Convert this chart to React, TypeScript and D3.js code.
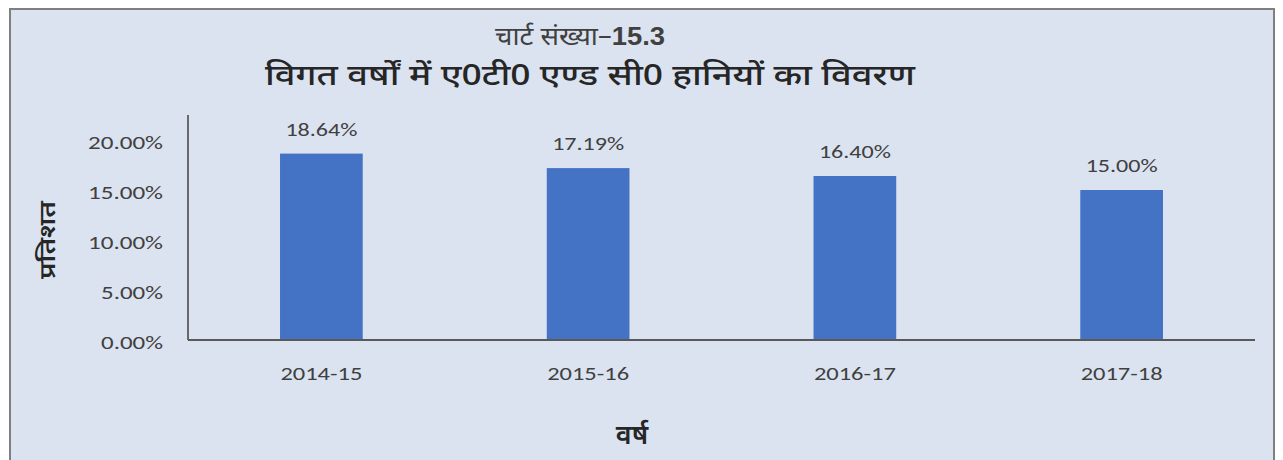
import { useEffect, useRef } from 'react';
import * as d3 from 'd3';

const years = ['2014-15', '2015-16', '2016-17', '2017-18'];
const losses = [18.64, 17.19, 16.4, 15.0];
const yTicks = [0, 5, 10, 15, 20];

const titleTop = 'चार्ट संख्या–';
const titleNum = '15.3';
const titleMain = 'विगत वर्षों में ए0टी0 एण्ड सी0 हानियों का विवरण';
const yTitle = 'प्रतिशत';
const xTitle = 'वर्ष';

const W = 1283;
const H = 460;
const hindiFont = '"Noto Sans Devanagari", "Lohit Devanagari", "Noto Sans", sans-serif';
const labelFont = 'Carlito, Calibri, "Open Sans", sans-serif';

export default function App() {
  const svgRef = useRef<SVGSVGElement>(null);

  useEffect(() => {
    if (!svgRef.current) return;
    const svg = d3.select(svgRef.current);
    svg.selectAll('*').remove();

    // chart box
    svg.append('rect')
      .attr('x', 10).attr('y', 9)
      .attr('width', 1264).attr('height', 460)
      .attr('fill', '#dbe3f0')
      .attr('stroke', '#7f7f7f')
      .attr('stroke-width', 2);

    const x = d3.scaleBand<string>()
      .domain(years)
      .range([188, 1255])
      .paddingInner(0.69)
      .paddingOuter(0.345);

    const y = d3.scaleLinear().domain([0, 20]).range([340, 140]);

    // title, line 1
    const t1 = svg.append('text')
      .attr('x', 580).attr('y', 45)
      .attr('text-anchor', 'middle')
      .attr('font-family', hindiFont)
      .attr('font-size', 25)
      .attr('fill', '#404040')
      .attr('textLength', 170)
      .attr('lengthAdjust', 'spacingAndGlyphs');
    t1.append('tspan').text(titleTop);
    t1.append('tspan')
      .attr('font-weight', 'bold')
      .attr('font-family', 'Arial, "Liberation Sans", sans-serif')
      .text(titleNum);

    // title, line 2
    svg.append('text')
      .attr('x', 590).attr('y', 85)
      .attr('text-anchor', 'middle')
      .attr('font-family', hindiFont)
      .attr('font-size', 28)
      .attr('font-weight', 500)
      .attr('fill', '#262626')
      .attr('textLength', 650)
      .attr('lengthAdjust', 'spacingAndGlyphs')
      .text(titleMain);

    // bars
    svg.selectAll('.bar')
      .data(losses)
      .enter()
      .append('rect')
      .attr('class', 'bar')
      .attr('x', (_, i) => x(years[i])!)
      .attr('y', d => y(d))
      .attr('width', x.bandwidth())
      .attr('height', d => y(0) - y(d))
      .attr('fill', '#4472c4');

    // value labels
    svg.selectAll('.val')
      .data(losses)
      .enter()
      .append('text')
      .attr('class', 'val')
      .attr('x', (_, i) => x(years[i])! + x.bandwidth() / 2)
      .attr('y', d => y(d) - 18)
      .attr('text-anchor', 'middle')
      .attr('font-family', labelFont)
      .attr('font-size', 19)
      .attr('fill', '#404040')
      .attr('textLength', 72)
      .attr('lengthAdjust', 'spacingAndGlyphs')
      .text(d => d.toFixed(2) + '%');

    // axes lines
    svg.append('line')
      .attr('x1', 188).attr('x2', 188)
      .attr('y1', y(22.5)).attr('y2', y(0))
      .attr('stroke', '#404040').attr('stroke-width', 1.5);
    svg.append('line')
      .attr('x1', 188).attr('x2', 1255)
      .attr('y1', y(0)).attr('y2', y(0))
      .attr('stroke', '#595959').attr('stroke-width', 2);

    // y tick labels
    svg.selectAll('.ytick')
      .data(yTicks)
      .enter()
      .append('text')
      .attr('class', 'ytick')
      .attr('x', 163)
      .attr('y', d => y(d) + 2)
      .attr('dy', '0.35em')
      .attr('text-anchor', 'end')
      .attr('font-family', labelFont)
      .attr('font-size', 19)
      .attr('fill', '#404040')
      .attr('textLength', d => (d < 10 ? 62 : 75))
      .attr('lengthAdjust', 'spacingAndGlyphs')
      .text(d => d.toFixed(2) + '%');

    // x tick labels
    svg.selectAll('.xtick')
      .data(years)
      .enter()
      .append('text')
      .attr('class', 'xtick')
      .attr('x', d => x(d)! + x.bandwidth() / 2)
      .attr('y', 380)
      .attr('text-anchor', 'middle')
      .attr('font-family', labelFont)
      .attr('font-size', 19)
      .attr('fill', '#404040')
      .attr('textLength', 82)
      .attr('lengthAdjust', 'spacingAndGlyphs')
      .text(d => d);

    // axis titles
    svg.append('text')
      .attr('transform', 'translate(55,240) rotate(-90)')
      .attr('text-anchor', 'middle')
      .attr('font-family', hindiFont)
      .attr('font-size', 22)
      .attr('font-weight', 600)
      .attr('fill', '#262626')
      .attr('textLength', 78)
      .attr('lengthAdjust', 'spacingAndGlyphs')
      .text(yTitle);

    svg.append('text')
      .attr('x', 632).attr('y', 444)
      .attr('text-anchor', 'middle')
      .attr('font-family', hindiFont)
      .attr('font-size', 27)
      .attr('font-weight', 600)
      .attr('fill', '#262626')
      .text(xTitle);
  }, []);

  return (
    <svg
      ref={svgRef}
      width={W}
      height={H}
      style={{ position: 'absolute', left: 0, top: 0, background: '#ffffff' }}
    />
  );
}
